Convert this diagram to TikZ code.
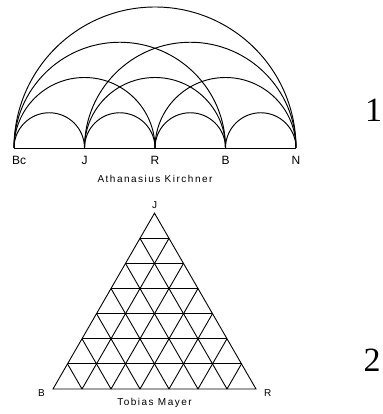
\documentclass[tikz,border=0pt]{standalone}
\usepackage{fontspec}
\setmainfont{Liberation Serif}
\setsansfont{Liberation Sans}
\newfontfamily\capfont[LetterSpace=15]{Liberation Sans}
\usetikzlibrary{calc, positioning}

\begin{document}
\begin{tikzpicture}[
    x=1pt, y=1pt,
    arcline/.style={line width=0.95pt},
    gridline/.style={line width=0.9pt},
    pointlbl/.style={font=\sffamily\fontsize{12}{13}\selectfont, inner sep=0pt},
    cornerlbl/.style={font=\sffamily\fontsize{10}{11}\selectfont, inner sep=0pt},
    caption/.style={font=\capfont\fontsize{10}{11}\selectfont, inner sep=0pt},
    plate/.style={font=\fontsize{34}{36}\selectfont, inner sep=0pt},
  ]
  \useasboundingbox (0,0) rectangle (382,414);

  % 1: Kircher's arcs
  \foreach \nm [count=\i from 0] in {bc,j,r,b,n}
    \coordinate (\nm) at (14+70.5*\i,266);
  \draw[arcline] (bc) -- (n);
  \foreach \s/\e in {bc/j,bc/r,bc/b,bc/n,j/r,j/b,j/n,r/b,r/n,b/n}
    \draw[arcline] let \p1=($(\e)-(\s)$) in
      (\s) arc[start angle=180, end angle=0, radius=0.5*\x1];
  \node[pointlbl, below right=8pt and -2pt of bc] (lbc) {Bc};
  \node[pointlbl, below=8pt of j] (lj) {J};
  \node[pointlbl, below=8pt of r] (lr) {R};
  \node[pointlbl, below=8pt of b] (lb) {B};
  \node[pointlbl, below=8pt of n] (ln) {N};
  \node[caption] (kircher) at (155,235.5) {Athanasius Kirchner};
  \node[plate] (one) at (373.5,304) {1};

  % 2: Mayer's triangle
  \coordinate (tb) at (53,25);
  \coordinate (tr) at (256,25);
  \coordinate (tj) at (154.5,200.8);
  \draw[gridline] (tb) -- (tr) -- (tj) -- cycle;
  \foreach \k in {1,...,6} {
    \draw[gridline] ($(tj)!\k/7!(tb)$) -- ($(tj)!\k/7!(tr)$);
    \draw[gridline] ($(tb)!\k/7!(tr)$) -- ($(tb)!\k/7!(tj)$);
    \draw[gridline] ($(tr)!\k/7!(tb)$) -- ($(tr)!\k/7!(tj)$);
  }
  \node[cornerlbl, above=4pt of tj] (ltj) {J};
  \node[cornerlbl, below left=0pt and 8pt of tb] (ltb) {B};
  \node[cornerlbl, below right=0pt and 8pt of tr] (ltr) {R};
  \node[caption] (mayer) at (154.5,11) {Tobias Mayer};
  \node[plate] (two) at (372,54) {2};
\end{tikzpicture}
\end{document}
